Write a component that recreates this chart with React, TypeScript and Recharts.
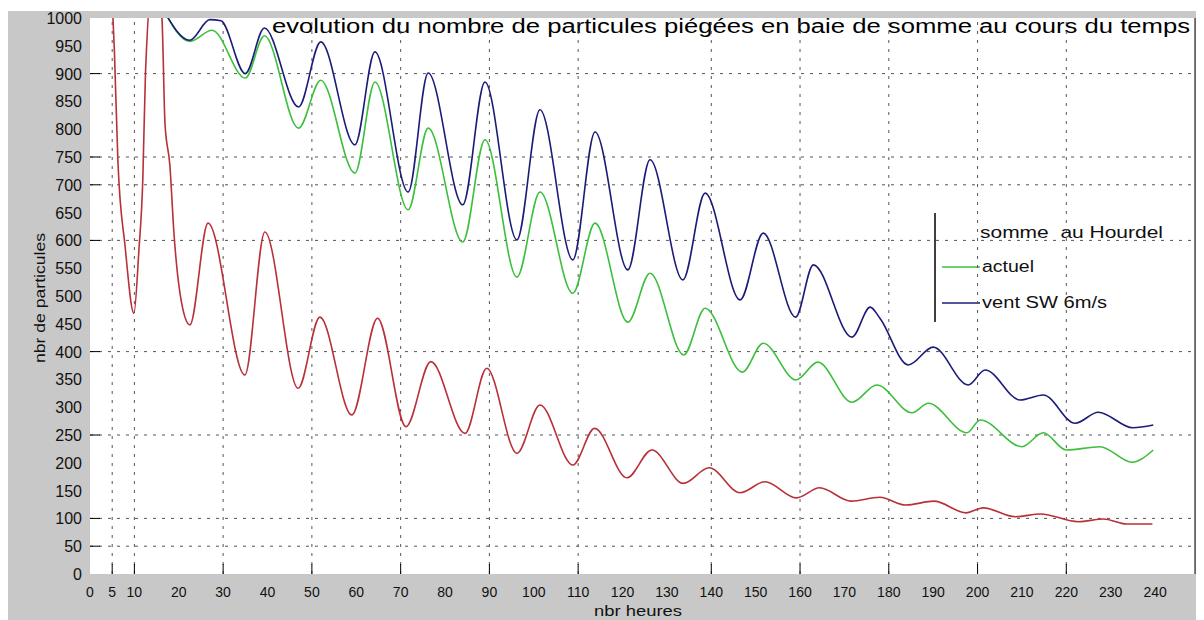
import { LineChart, Line, XAxis, YAxis, CartesianGrid, ReferenceLine } from 'recharts'

// heures / nombre de particules
const actuelHours = [16.5, 22.5, 27.5, 35, 39.3, 47, 52, 59.7, 64.2, 71.7, 76.2, 84, 89, 96.2, 101.4, 108.8, 113.8, 121.2, 126.2, 133.8, 138.6, 147, 151.7, 159.1, 164, 171.7, 177.3, 185.2, 188.9, 197.6, 200.6, 210, 214.8, 220, 227.6, 234.8, 239.6]
const actuelCounts = [1015, 958, 978, 892, 968, 802, 888, 721, 885, 655, 802, 597, 781, 534, 687, 505, 631, 453, 541, 394, 478, 363, 415, 349, 381, 309, 340, 290, 307, 254, 277, 229, 254, 223, 229, 201, 223]

const ventHours = [16.5, 22.5, 27, 29.5, 35, 39.3, 47, 52, 59.7, 64.2, 71.7, 76.2, 84, 89, 96.2, 101.4, 108.8, 113.8, 121.2, 126.2, 133.6, 138.6, 146.5, 151.7, 159, 163, 171.7, 175.8, 178, 184.4, 190, 197.9, 201.7, 209.6, 214.8, 222, 227.2, 235, 239.6]
const ventCounts = [1015, 960, 997, 995, 900, 982, 840, 957, 772, 939, 687, 901, 664, 885, 601, 835, 565, 795, 547, 745, 529, 685, 493, 613, 462, 556, 426, 480, 460, 376, 408, 340, 367, 313, 322, 271, 291, 263, 268]

const hourdelHours = [4.9, 5.5, 6.3, 7.9, 9.9, 11, 11.9, 12.5, 14.3, 16.2, 16.9, 18, 18.9, 21.4, 22.5, 26.6, 34.9, 39.4, 46.9, 51.8, 59, 64.8, 71.2, 76.8, 84.5, 89.4, 96.2, 101.4, 108.8, 113.7, 121, 126.6, 133.7, 139.5, 146.5, 152.1, 159.2, 164.4, 171.5, 178, 183.8, 190.2, 197.4, 201.3, 208.5, 214.2, 222.7, 228.4, 233.6, 239.4]
const hourdelCounts = [1050, 940, 740, 590, 469, 580, 710, 900, 1080, 1000, 810, 735, 615, 462, 448, 631, 358, 615, 334, 462, 286, 460, 265, 382, 253, 370, 217, 304, 196, 262, 173, 223, 163, 191, 146, 166, 137, 155, 131, 138, 124, 131, 110, 119, 103, 108, 94, 99, 90, 90]

const xTicks = [0, 5, 10, 20, 30, 40, 50, 60, 70, 80, 90, 100, 110, 120, 130, 140, 150, 160, 170, 180, 190, 200, 210, 220, 230, 240]
const yTicks = [0, 50, 100, 150, 200, 250, 300, 350, 400, 450, 500, 550, 600, 650, 700, 750, 800, 850, 900, 950, 1000]
// grille et graduations encore visibles sur la capture
const xGrid = [5, 10, 30, 50, 70, 90, 110, 140, 160, 180, 200, 220]
const yGrid = [50, 100, 250, 400, 600, 700, 750, 900]

const toPoints = (hours: number[], counts: number[]) => hours.map((t, i) => ({ t, v: counts[i] }))

const FONT = '"Liberation Sans", Arial, sans-serif'
const GREEN = '#3cbf3c'
const BLUE = '#1c1c78'
const RED = '#b8303a'

const LeftTick = ({ x, y, payload }: any) => (
    <g>
        <text x={x} y={y} dy={6} textAnchor="end" fontSize={16} fill="#111" fontFamily={FONT}>{payload.value}</text>
        {yGrid.includes(payload.value) && <line x1={x + 8} x2={x + 18} y1={y} y2={y} stroke="#000" />}
    </g>
)

const RightTick = ({ x, y }: any) => <line x1={x - 10} x2={x} y1={y} y2={y} stroke="#000" />

const BottomTick = ({ x, y, payload }: any) => (
    <g>
        {xGrid.includes(payload.value) && <line x1={x} x2={x} y1={y} y2={y - 10} stroke="#000" />}
        <text x={x} y={y + 23} textAnchor="middle" fontSize={14} fill="#111" fontFamily={FONT}>{payload.value}</text>
    </g>
)

const TopTick = ({ x, y }: any) => <line x1={x} x2={x} y1={y} y2={y + 10} stroke="#000" />

export default function App() {
    return (
        <div style={{ marginTop: 3, width: 1196, height: 609, background: '#c8c8c8', fontFamily: FONT }}>
            <LineChart width={1196} height={609} margin={{ top: 0, right: 0, bottom: 0, left: 0 }} style={{ overflow: 'visible' }}>
                <CartesianGrid horizontal={false} vertical={false} fill="#ffffff" fillOpacity={1} />
                <XAxis dataKey="t" type="number" domain={[0, 249]} ticks={xTicks} interval={0} allowDataOverflow
                    height={46} tickSize={0} tickMargin={0} axisLine={false} tickLine={false} tick={<BottomTick />} />
                <XAxis xAxisId="top" orientation="top" type="number" domain={[0, 249]} ticks={xGrid} interval={0}
                    height={7} tickSize={0} tickMargin={0} axisLine={false} tickLine={false} tick={<TopTick />} />
                <YAxis type="number" domain={[0, 1000]} ticks={yTicks} interval={0} allowDataOverflow
                    width={82} tickSize={0} tickMargin={8} axisLine={false} tickLine={false} tick={<LeftTick />} />
                <YAxis yAxisId="r" orientation="right" type="number" domain={[0, 1000]} ticks={yGrid} interval={0}
                    width={9} tickSize={0} tickMargin={0} axisLine={{ stroke: '#000' }} tickLine={false} tick={<RightTick />} />
                {yGrid.map((v) => (
                    <ReferenceLine key={'y' + v} y={v} stroke="#555" strokeDasharray="3 6" />
                ))}
                {xGrid.map((v) => (
                    <ReferenceLine key={'x' + v} x={v} stroke="#555" strokeDasharray="3 6" />
                ))}
                <Line data={toPoints(hourdelHours, hourdelCounts)} dataKey="v" type="monotone" stroke={RED} strokeWidth={1.6} dot={false} isAnimationActive={false} />
                <Line data={toPoints(actuelHours, actuelCounts)} dataKey="v" type="monotone" stroke={GREEN} strokeWidth={1.6} dot={false} isAnimationActive={false} />
                <Line data={toPoints(ventHours, ventCounts)} dataKey="v" type="monotone" stroke={BLUE} strokeWidth={1.6} dot={false} isAnimationActive={false} />

                <text x={1182} y={22} textAnchor="end" fontSize={20} fill="#000" fontFamily={FONT} textLength={918} lengthAdjust="spacingAndGlyphs">
                    evolution du nombre de particules piégées en baie de somme au cours du temps
                </text>
                <text x={630} y={605} textAnchor="middle" fontSize={14} fill="#111" fontFamily={FONT} textLength={88} lengthAdjust="spacingAndGlyphs">nbr heures</text>
                <text x={37} y={287} textAnchor="middle" fontSize={14} fill="#111" fontFamily={FONT} textLength={130} lengthAdjust="spacingAndGlyphs" transform="rotate(-90 37 287)">nbr de particules</text>

                <g>
                    <line x1={927} x2={927} y1={202} y2={311} stroke="#000" strokeWidth={1.5} />
                    <text x={972} y={227} fontSize={17} fill="#111" fontFamily={FONT} textLength={183} lengthAdjust="spacingAndGlyphs" style={{ whiteSpace: 'pre' }}>somme  au Hourdel</text>
                    <line x1={934} x2={972} y1={256} y2={256} stroke={GREEN} strokeWidth={1.6} />
                    <text x={974} y={261} fontSize={16} fill="#111" fontFamily={FONT} textLength={52} lengthAdjust="spacingAndGlyphs">actuel</text>
                    <line x1={934} x2={972} y1={292} y2={292} stroke={BLUE} strokeWidth={1.6} />
                    <text x={974} y={297} fontSize={16} fill="#111" fontFamily={FONT} textLength={125} lengthAdjust="spacingAndGlyphs">vent SW 6m/s</text>
                </g>
            </LineChart>
        </div>
    )
}
